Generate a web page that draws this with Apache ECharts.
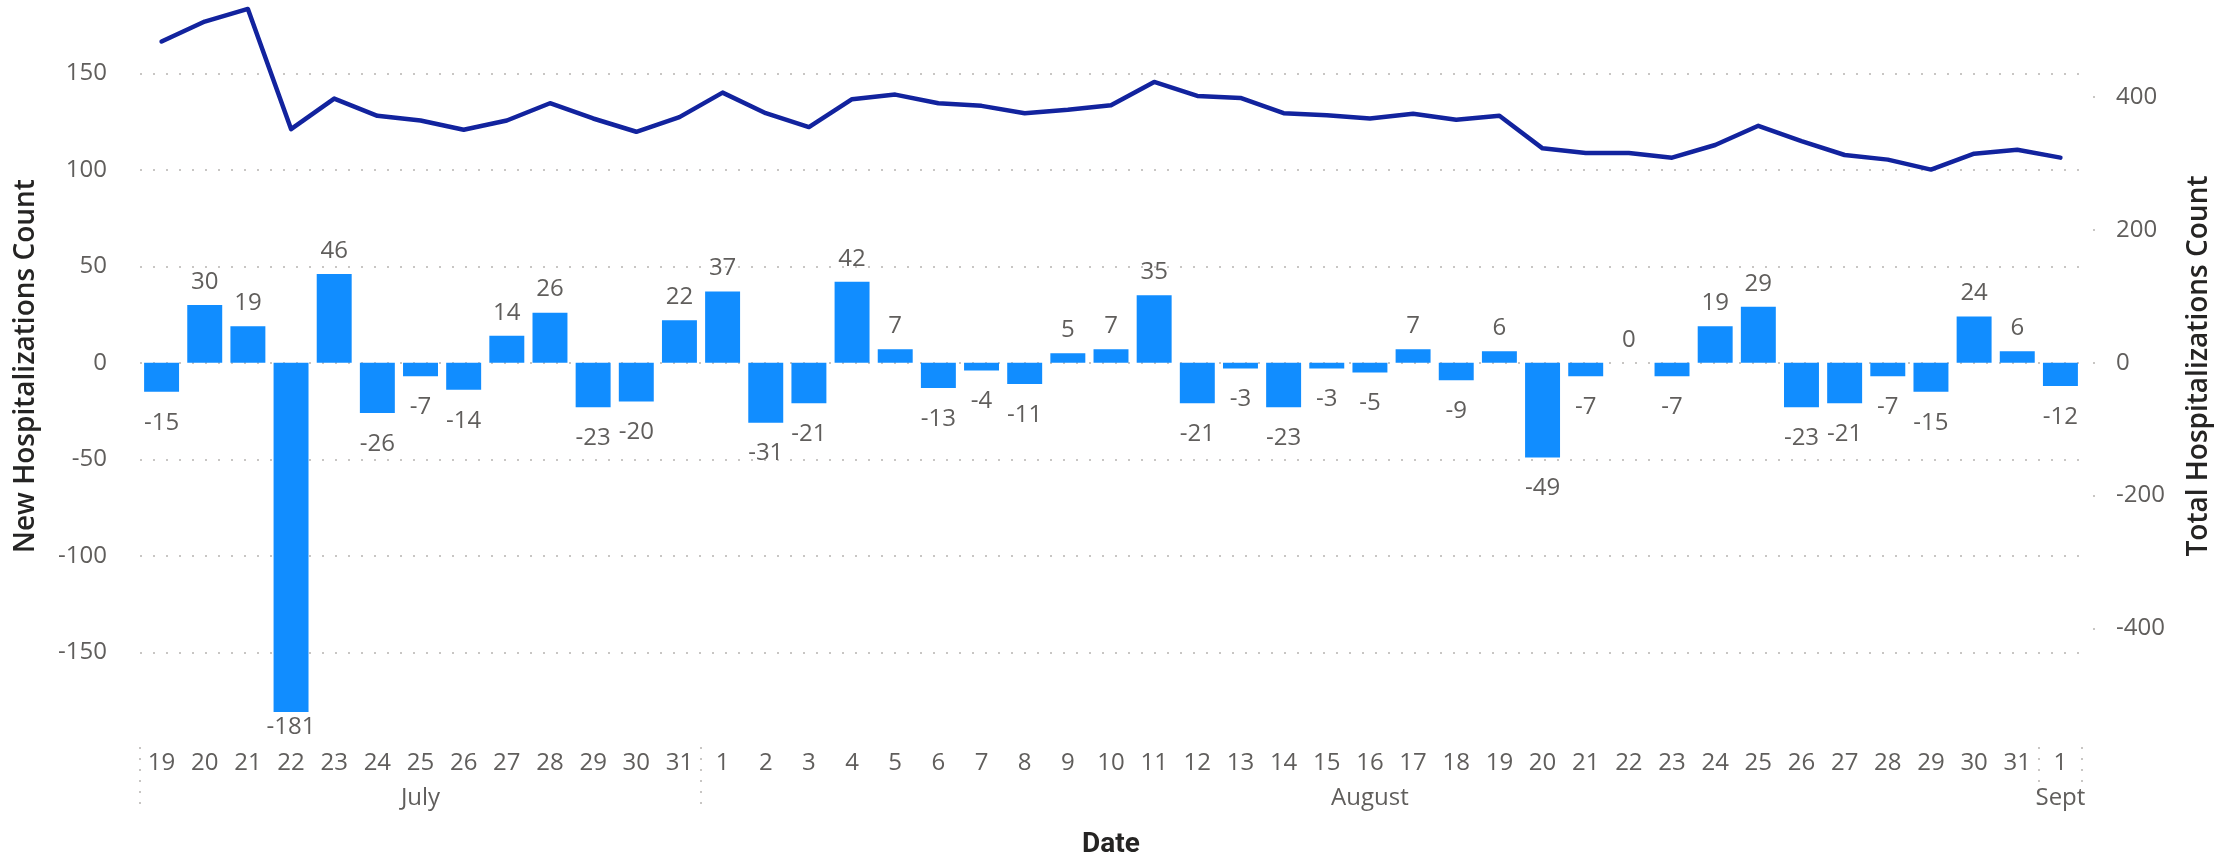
<!DOCTYPE html>
<html>
<head>
<meta charset="utf-8">
<script src="https://cdn.jsdelivr.net/npm/echarts@6/dist/echarts.min.js"></script>
<style>
html,body{margin:0;padding:0;background:#ffffff;}
#chart{width:2221px;height:864px;}
</style>
</head>
<body>
<div id="chart"></div>
<script>
// ---- data ----
const julyDays = ['19','20','21','22','23','24','25','26','27','28','29','30','31'];
const augustDays = ['1','2','3','4','5','6','7','8','9','10','11','12','13','14','15','16','17','18','19','20','21','22','23','24','25','26','27','28','29','30','31'];
const septDays = ['1'];
const monthNames = ['July', 'August', 'Sept'];

const newHospitalizations = [
  -15, 30, 19, -181, 46, -26, -7, -14, 14, 26, -23, -20, 22,
  37, -31, -21, 42, 7, -13, -4, -11, 5, 7, 35, -21, -3, -23, -3, -5, 7, -9, 6, -49, -7, 0, -7, 19, 29, -23, -21, -7, -15, 24, 6,
  -12
];
const totalHospitalizations = [
  484, 514, 533, 352, 398, 372, 365, 351, 365, 391, 368, 348, 370,
  407, 376, 355, 397, 404, 391, 387, 376, 381, 388, 423, 402, 399, 376, 373, 368, 375, 366, 372, 323, 316, 316, 309, 328, 357, 334, 313, 306, 291, 315, 321,
  309
];
const rightTickValues = [-400, -200, 0, 200, 400];

// ---- derived structures for the library ----
const monthGroups = [julyDays, augustDays, septDays];
const dayLabels = [];
const monthOfDay = [];
const monthStarts = [];
const monthMiddles = [];
monthGroups.forEach((days, m) => {
  monthStarts.push(dayLabels.length);
  monthMiddles.push(dayLabels.length + Math.floor((days.length - 1) / 2));
  days.forEach(d => { dayLabels.push(d); monthOfDay.push(monthNames[m]); });
});

const labelFont = '"Segoe UI", "Open Sans", sans-serif';
const labelColor = '#605E5C';
const gridDots = { color: '#C8C6C4', width: 2, type: [2, 11] };

const minNew = Math.min.apply(null, newHospitalizations);
const barData = newHospitalizations.map(v => {
  let dist = v < 0 ? 19 : 11;
  if (v === minNew) dist = 3;
  return { value: v, label: { position: v < 0 ? 'bottom' : 'top', distance: dist } };
});

const chart = echarts.init(document.getElementById('chart'), null, { renderer: 'canvas' });
chart.setOption({
  animation: false,
  backgroundColor: '#ffffff',
  grid: { left: 140, right: 135, top: 0, bottom: 124, containLabel: false },
  xAxis: [
    {
      type: 'category',
      data: dayLabels,
      position: 'bottom',
      axisLine: { show: false, onZero: false },
      axisTick: { show: false },
      axisLabel: { interval: 0, color: labelColor, fontSize: 24, fontFamily: labelFont, margin: 19 },
      splitLine: { show: false }
    },
    {
      type: 'category',
      data: monthOfDay,
      position: 'bottom',
      offset: 15,
      axisLine: { show: false, onZero: false },
      axisTick: {
        show: true,
        length: 65,
        interval: (i) => monthStarts.indexOf(i) >= 0,
        lineStyle: { color: '#C8C6C4', width: 2, type: [2, 9] }
      },
      axisLabel: {
        interval: (i) => monthMiddles.indexOf(i) >= 0,
        color: labelColor, fontSize: 24, fontFamily: labelFont, margin: 39
      },
      splitLine: { show: false },
      name: 'Date',
      nameLocation: 'middle',
      nameGap: 84,
      nameTextStyle: { color: '#252423', fontSize: 28, fontWeight: 'bold', fontFamily: 'Roboto, sans-serif', verticalAlign: 'top' }
    }
  ],
  yAxis: [
    {
      type: 'value',
      min: -191.3,
      max: 188,
      minInterval: 50,
      maxInterval: 50,
      position: 'left',
      axisLine: { show: false },
      axisTick: { show: false },
      axisLabel: {
        color: labelColor, fontSize: 24, fontFamily: labelFont, margin: 33,
        showMinLabel: false, showMaxLabel: false,
        formatter: (v) => (Math.round(v) % 50 === 0 ? String(Math.round(v)) : '')
      },
      splitLine: { show: true, showMinLine: false, showMaxLine: false, lineStyle: gridDots },
      name: 'New Hospitalizations Count',
      nameLocation: 'middle',
      nameGap: 100,
      nameTextStyle: { color: '#252423', fontSize: 28, fontWeight: 600, fontFamily: '"Open Sans", sans-serif' }
    },
    {
      type: 'value',
      min: -556.3,
      max: 546.5,
      minInterval: 200,
      maxInterval: 200,
      position: 'right',
      axisLine: { show: false, onZero: false },
      axisTick: {
        show: true,
        length: 14,
        customValues: rightTickValues,
        lineStyle: { color: '#C8C6C4', width: 2, type: [0, 11, 2, 30] }
      },
      axisLabel: {
        color: labelColor, fontSize: 24, fontFamily: labelFont, margin: 34,
        showMinLabel: false, showMaxLabel: false,
        formatter: (v) => (Math.round(v) % 200 === 0 ? String(Math.round(v)) : '')
      },
      splitLine: { show: false },
      name: 'Total Hospitalizations Count',
      nameLocation: 'middle',
      nameGap: 103,
      nameTextStyle: { color: '#252423', fontSize: 28, fontWeight: 600, fontFamily: '"Open Sans", sans-serif' }
    }
  ],
  series: [
    {
      name: 'New Hospitalizations',
      type: 'bar',
      xAxisIndex: 0,
      yAxisIndex: 0,
      data: barData,
      barCategoryGap: '19%',
      itemStyle: { color: '#118DFF' },
      label: { show: true, color: labelColor, fontSize: 24, fontFamily: labelFont, formatter: '{c}' },
      z: 2
    },
    {
      name: 'Total Hospitalizations',
      type: 'line',
      xAxisIndex: 0,
      yAxisIndex: 1,
      data: totalHospitalizations,
      showSymbol: false,
      symbol: 'none',
      lineStyle: { color: '#12239E', width: 4.5, cap: 'round', join: 'round' },
      itemStyle: { color: '#12239E' },
      z: 3
    }
  ]
});
</script>
</body>
</html>
